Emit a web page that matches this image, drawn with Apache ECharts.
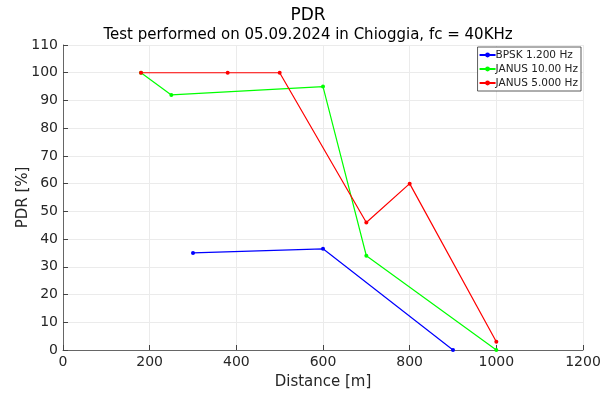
<!DOCTYPE html>
<html>
<head>
<meta charset="utf-8">
<script src="https://cdn.jsdelivr.net/npm/echarts@6/dist/echarts.min.js"></script>
<style>
  html, body { margin: 0; padding: 0; background: #fff; }
  #chart { width: 616px; height: 394px; }
</style>
</head>
<body>
<div id="chart"></div>
<script>
const bpskX = [300, 600, 900];
const bpskY = [35, 36.5, 0];
const janus10X = [180, 250, 600, 700, 1000];
const janus10Y = [100, 92, 95, 34, 0];
const janus5X = [180, 380, 500, 700, 800, 1000];
const janus5Y = [100, 100, 100, 46, 60, 3];

const seriesNames = ['BPSK 1.200 Hz', 'JANUS 10.00 Hz', 'JANUS 5.000 Hz'];
const seriesColors = ['#0000ff', '#00ff00', '#ff0000'];

const pairs = (xs, ys) => xs.map((x, i) => [x, ys[i]]);
const seriesData = [pairs(bpskX, bpskY), pairs(janus10X, janus10Y), pairs(janus5X, janus5Y)];

const chart = echarts.init(document.getElementById('chart'), null, { renderer: 'canvas' });

const font = 'DejaVu Sans';

chart.setOption({
  backgroundColor: '#fff',
  animation: false,
  title: [
    { text: 'PDR', left: 'center', top: 2, textStyle: { fontFamily: font, fontSize: 17, fontWeight: 'normal', color: '#000' } },
    { text: 'Test performed on 05.09.2024 in Chioggia, fc = 40KHz', left: 'center', top: 23, textStyle: { fontFamily: font, fontSize: 15, fontWeight: 'normal', color: '#000' } }
  ],
  grid: { left: 63, right: 33, top: 45, bottom: 44, containLabel: false, outerBoundsMode: 'none' },
  legend: {
    orient: 'vertical',
    right: 35,
    top: 47,
    padding: [2, 3, 2, 1],
    itemGap: 2,
    itemWidth: 16,
    itemHeight: 6,
    borderColor: '#333',
    borderWidth: 0.8,
    backgroundColor: '#fff',
    textStyle: { fontFamily: font, fontSize: 10.5, color: '#222', padding: [0, 0, 0, -5], lineHeight: 12 },
    data: seriesNames
  },
  xAxis: {
    type: 'value',
    min: 0, max: 1200, interval: 200,
    name: 'Distance [m]',
    nameLocation: 'middle',
    nameGap: 25,
    nameMoveOverlap: false,
    nameTextStyle: { fontFamily: font, fontSize: 15, color: '#262626' },
    axisLine: { show: true, lineStyle: { color: '#444', width: 0.8 } },
    axisTick: { show: true, inside: true, length: 5, lineStyle: { color: '#444' } },
    axisLabel: { fontFamily: font, fontSize: 14, color: '#262626', margin: 5, formatter: v => String(v) },
    splitLine: { show: true, lineStyle: { color: '#ebebeb', width: 1 } }
  },
  yAxis: {
    type: 'value',
    min: 0, max: 110, interval: 10,
    name: 'PDR [%]',
    nameLocation: 'middle',
    nameGap: 32,
    nameMoveOverlap: false,
    nameTextStyle: { fontFamily: font, fontSize: 15, color: '#262626' },
    axisLine: { show: true, lineStyle: { color: '#444', width: 0.8 } },
    axisTick: { show: true, inside: true, length: 5, lineStyle: { color: '#444' } },
    axisLabel: { fontFamily: font, fontSize: 14, color: '#262626', margin: 5 },
    splitLine: { show: true, lineStyle: { color: '#ebebeb', width: 1 } }
  },
  series: seriesNames.map((name, i) => ({
    name,
    type: 'line',
    data: seriesData[i],
    color: seriesColors[i],
    symbol: 'circle',
    symbolSize: 4,
    lineStyle: { width: 1.2 },
    itemStyle: { color: seriesColors[i] },
    z: 3 + i
  }))
});
</script>
</body>
</html>
